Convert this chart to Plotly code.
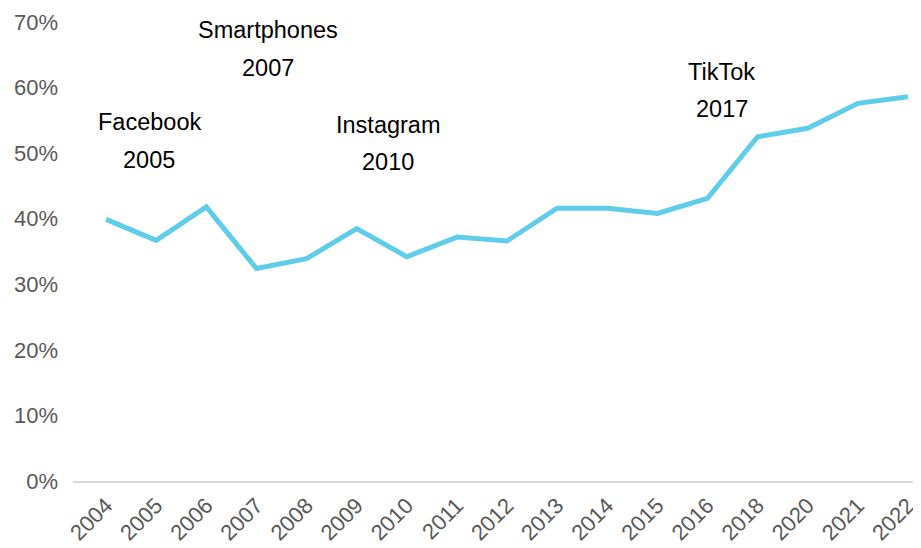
import plotly.graph_objects as go

years = ["2004", "2005", "2006", "2007", "2008", "2009", "2010", "2011", "2012",
         "2013", "2014", "2015", "2016", "2018", "2020", "2021", "2022"]
share = [39.9, 36.7, 41.8, 32.4, 33.9, 38.5, 34.2, 37.2, 36.6,
         41.6, 41.6, 40.8, 43.1, 52.5, 53.8, 57.6, 58.6]

event_names = ["Facebook", "Smartphones", "Instagram", "TikTok"]
event_years = ["2005", "2007", "2010", "2017"]
event_xpos = [0.86, 3.24, 5.63, 12.28]
event_name_y = [54.8, 68.8, 54.3, 62.4]
event_year_y = [49.0, 63.0, 48.6, 56.7]

fig = go.Figure()
fig.add_trace(go.Scatter(
    x=years, y=share, mode="lines",
    line=dict(color="#5FCDEA", width=5),
    hoverinfo="skip",
))

annots = []
for name, yr, xp, yn, yy in zip(event_names, event_years, event_xpos, event_name_y, event_year_y):
    annots.append(dict(x=xp, y=yn, xref="x", yref="y", text=name, showarrow=False,
                       font=dict(family="Liberation Sans, Arial", size=23.5, color="#000000")))
    annots.append(dict(x=xp, y=yy, xref="x", yref="y", text=yr, showarrow=False,
                       font=dict(family="Liberation Sans, Arial", size=23.5, color="#000000")))

# The page places the figure 8px from the top-left corner of the window.
fig.update_layout(
    width=913, height=540,
    margin=dict(l=65, r=0, t=14, b=67),
    paper_bgcolor="white", plot_bgcolor="white",
    showlegend=False,
    annotations=annots,
    font=dict(family="Liberation Sans, Arial", color="#595959"),
    xaxis=dict(
        type="category", range=[-0.66, 16.26],
        showgrid=False, zeroline=False, automargin=False,
        showline=True, linecolor="#D9D9D9", linewidth=2,
        tickangle=-45, tickfont=dict(size=22, color="#595959"),
        ticks="", ticklabelstandoff=1,
    ),
    yaxis=dict(
        range=[0, 70], tickvals=[0, 10, 20, 30, 40, 50, 60, 70],
        ticktext=["0%", "10%", "20%", "30%", "40%", "50%", "60%", "70%"],
        showgrid=False, zeroline=False, showline=False, automargin=False,
        tickfont=dict(size=22, color="#595959"),
        ticklabelstandoff=14,
    ),
)

fig.write_html("out.html")
